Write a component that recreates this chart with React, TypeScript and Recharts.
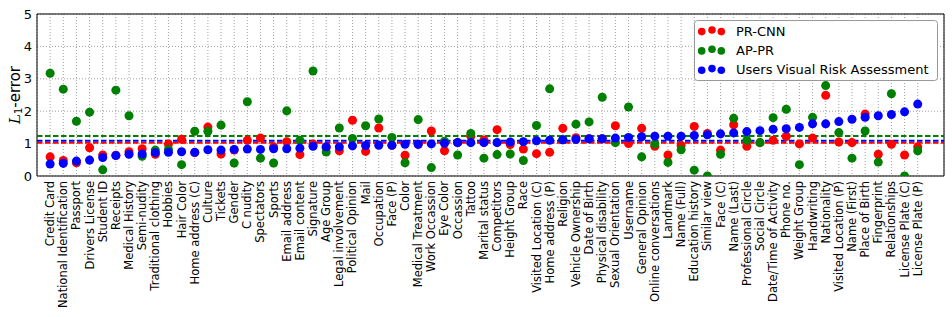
import {
  ScatterChart,
  Scatter,
  XAxis,
  YAxis,
  ZAxis,
  CartesianGrid,
  ReferenceLine,
  ReferenceArea,
  Legend,
} from "recharts";

const CATEGORIES = [
  "Credit Card", "National Identification", "Passport", "Drivers License", "Student ID",
  "Receipts", "Medical History", "Semi-nudity", "Traditional clothing", "Hobbies",
  "Hair Color", "Home address (C)", "Culture", "Tickets", "Gender",
  "C nudity", "Spectators", "Sports", "Email address", "Email content",
  "Signature", "Age Group", "Legal involvement", "Political Opinion", "Mail",
  "Occupation", "Face (P)", "Color", "Medical Treatment", "Work Occassion",
  "Eye Color", "Occassion", "Tattoo", "Marital status", "Competitors",
  "Height Group", "Race", "Visited Location (C)", "Home address (P)", "Religion",
  "Vehicle Ownership", "Date of Birth", "Physical disability", "Sexual Orientation", "Username",
  "General Opinion", "Online conversations", "Landmark", "Name (Full)", "Education history",
  "Similar view", "Face (C)", "Name (Last)", "Professional Circle", "Social Circle",
  "Date/Time of Activity", "Phone no.", "Weight Group", "Handwriting", "Nationality",
  "Visited Location (P)", "Name (First)", "Place of Birth", "Fingerprint", "Relationships",
  "License Plate (C)", "License Plate (P)",
];

const PR_CNN = [
  0.59, 0.48, 0.41, 0.87, 0.65, 0.64, 0.75, 0.84, 0.67, 0.99,
  1.13, 0.72, 1.51, 0.68, 0.80, 1.10, 1.17, 0.90, 1.06, 0.66,
  0.99, 0.88, 0.78, 1.72, 0.76, 1.48, 0.95, 0.64, 0.98, 1.39,
  0.78, 1.03, 1.23, 1.11, 1.43, 0.97, 0.83, 0.69, 0.73, 1.47,
  1.18, 1.15, 1.15, 1.55, 1.00, 1.47, 0.92, 0.65, 0.94, 1.53,
  1.31, 0.80, 1.58, 0.92, 1.03, 1.10, 1.22, 0.99, 1.17, 2.49,
  1.05, 1.03, 1.91, 0.67, 0.98, 0.65, 0.90,
];

const AP_PR = [
  3.17, 2.68, 1.69, 1.97, 0.19, 2.65, 1.86, 0.61, 0.80, 0.82,
  0.35, 1.38, 1.38, 1.57, 0.40, 2.29, 0.55, 0.40, 2.01, 1.10,
  3.24, 0.74, 1.48, 1.16, 1.55, 1.76, 1.19, 0.41, 1.74, 0.26,
  1.07, 0.65, 1.31, 0.55, 0.66, 0.68, 0.48, 1.56, 2.69, 1.12,
  1.60, 1.67, 2.43, 1.03, 2.13, 0.59, 0.99, 0.42, 0.81, 0.18,
  0.0, 0.67, 1.78, 1.10, 1.03, 1.80, 2.06, 0.35, 1.81, 2.79,
  1.34, 0.55, 1.39, 0.43, 2.54, 0.0, 0.78,
];

const USERS_VRA = [
  0.37, 0.39, 0.46, 0.49, 0.57, 0.63, 0.67, 0.68, 0.72, 0.73,
  0.75, 0.73, 0.81, 0.80, 0.82, 0.83, 0.82, 0.84, 0.84, 0.86,
  0.92, 0.90, 0.90, 0.93, 0.94, 0.95, 0.95, 0.98, 0.98, 0.99,
  1.01, 1.03, 1.03, 1.03, 1.03, 1.05, 1.06, 1.09, 1.10, 1.12,
  1.13, 1.15, 1.15, 1.17, 1.19, 1.21, 1.23, 1.23, 1.23, 1.25,
  1.27, 1.30, 1.33, 1.37, 1.40, 1.44, 1.46, 1.50, 1.61, 1.61,
  1.68, 1.75, 1.81, 1.86, 1.90, 1.98, 2.22,
];

// dashed average lines
const MEAN_PR_CNN = 1.03;
const MEAN_AP_PR = 1.235;
const MEAN_USERS_VRA = 1.09;

const Y_TICKS = [0, 1, 2, 3, 4, 5];
const X_TICKS = CATEGORIES.map((_, i) => i);

const FONT = "DejaVu Sans, sans-serif";

const SERIES = [
  { name: "PR-CNN", color: "#ff0000", values: PR_CNN, mean: MEAN_PR_CNN },
  { name: "AP-PR", color: "#008000", values: AP_PR, mean: MEAN_AP_PR },
  { name: "Users Visual Risk Assessment", color: "#0000ff", values: USERS_VRA, mean: MEAN_USERS_VRA },
];

function CategoryTick(props: any) {
  const { x, y, payload } = props;
  return (
    <g transform={`translate(${x},${y})`}>
      <text
        transform="rotate(-90)"
        x={0}
        y={0}
        textAnchor="end"
        dominantBaseline="central"
        fontSize={11.5}
        fontFamily={FONT}
        fill="#000"
      >
        {CATEGORIES[payload.value]}
      </text>
    </g>
  );
}

function YLabel(props: any) {
  const vb = props.viewBox || { x: 0, y: 14, width: 37, height: 162 };
  const cx = vb.x + 15;
  const cy = vb.y + vb.height / 2;
  return (
    <text
      transform={`rotate(-90, ${cx}, ${cy})`}
      x={cx}
      y={cy}
      textAnchor="middle"
      dominantBaseline="central"
      fontSize={15}
      fontFamily={FONT}
      fill="#000"
    >
      <tspan fontStyle="italic" fontFamily="DejaVu Serif, serif">L</tspan>
      <tspan fontSize={10} dy={3}>1</tspan>
      <tspan dy={-3}>-error</tspan>
    </text>
  );
}

function LegendBox() {
  const offsets = [0.6, -1, 0.6];
  return (
    <svg width={245} height={62} style={{ display: "block" }}>
      <rect x={0.5} y={0.5} width={243} height={60} rx={3} fill="#fff" stroke="#999" />
      {SERIES.map((s, i) => {
        const cy = 11 + i * 19.3;
        return (
          <g key={s.name}>
            {[7.7, 18, 27.3].map((cx, j) => (
              <circle key={j} cx={cx} cy={cy + offsets[j]} r={3.8} fill={s.color} />
            ))}
            <text
              x={42}
              y={cy}
              dominantBaseline="central"
              fontSize={13}
              fontFamily={FONT}
              fill="#000"
            >
              {s.name}
            </text>
          </g>
        );
      })}
    </svg>
  );
}

export default function App() {
  return (
    <div style={{ position: "absolute", left: 0, top: 0, width: 952, height: 317, background: "#fff" }}>
      <ScatterChart
        width={952}
        height={317}
        margin={{ top: 14, right: 8, left: 0, bottom: 0 }}
      >
        <CartesianGrid stroke="#888" strokeDasharray="1 2" strokeWidth={0.8} />
        <XAxis
          type="number"
          dataKey="x"
          domain={[-1, 68]}
          ticks={X_TICKS}
          interval={0}
          height={141}
          tick={<CategoryTick />}
          tickSize={0}
          tickMargin={5}
          axisLine={false}
          tickLine={false}
          allowDataOverflow
        />
        <YAxis
          type="number"
          dataKey="y"
          domain={[0, 5]}
          ticks={Y_TICKS}
          width={37}
          tick={{ fontSize: 13, fill: "#000", fontFamily: FONT }}
          tickSize={0}
          tickMargin={5}
          axisLine={false}
          tickLine={false}
          allowDataOverflow
          label={<YLabel />}
        />
        <ZAxis range={[50, 50]} />
        {SERIES.map((s) => (
          <ReferenceLine
            key={`mean-${s.name}`}
            y={s.mean}
            stroke={s.color}
            strokeWidth={2}
            strokeDasharray="5.5 2.5"
          />
        ))}
        {SERIES.map((s) => (
          <Scatter
            key={s.name}
            name={s.name}
            data={s.values.map((v, i) => ({ x: i, y: v }))}
            fill={s.color}
            shape="circle"
            isAnimationActive={false}
          />
        ))}
        <ReferenceArea x1={-1} x2={68} y1={0} y2={5} fill="none" stroke="#000" strokeWidth={1} />
        <Legend
          layout="horizontal"
          verticalAlign="middle"
          align="center"
          content={<LegendBox />}
          wrapperStyle={{ left: 694, top: 20, width: 245, height: 62 }}
        />
      </ScatterChart>
    </div>
  );
}
